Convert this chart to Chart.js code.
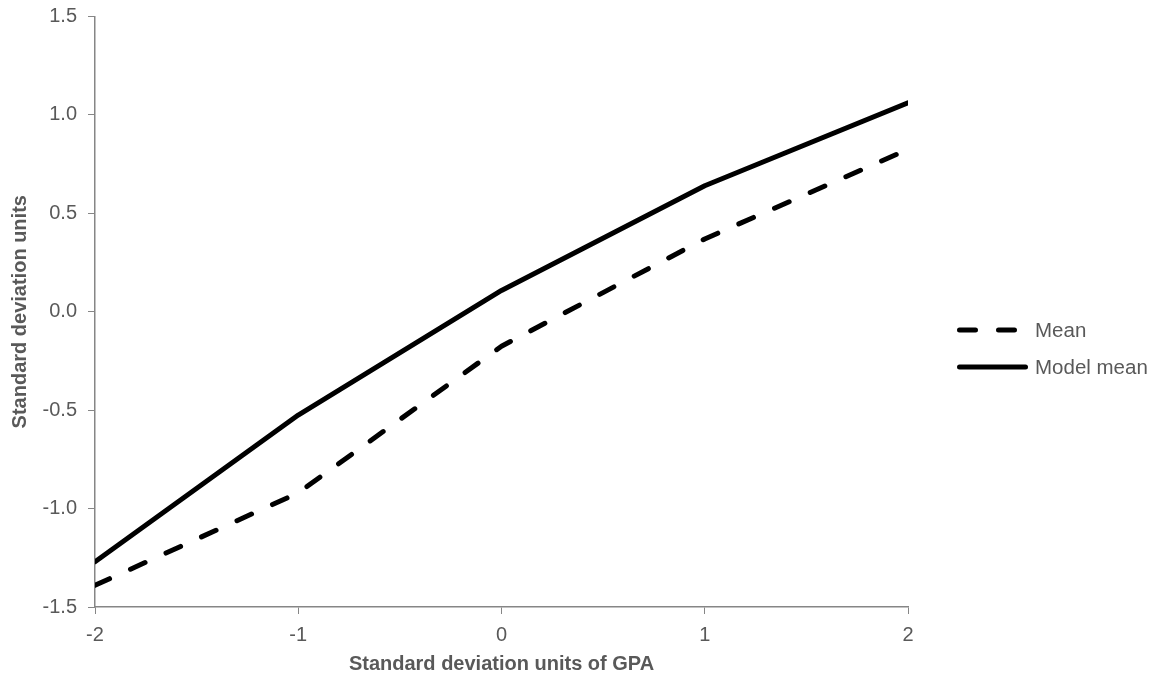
<!DOCTYPE html>
<html>
<head>
<meta charset="utf-8">
<script src="https://cdn.jsdelivr.net/npm/chart.js@4"></script>
<style>
  html, body { margin: 0; padding: 0; background: #fff; }
  #wrap { width: 1161px; height: 681px; position: relative; }
</style>
</head>
<body>
<div id="wrap"><canvas id="gpa-chart" width="1161" height="681"></canvas></div>
<script>
// values
const xValues = [-2, -1, 0, 1, 2];
const meanValues = [-1.39, -0.92, -0.175, 0.37, 0.825];
const modelMeanValues = [-1.27, -0.525, 0.108, 0.64, 1.062];
const xTickLabels = ['-2', '-1', '0', '1', '2'];
const yTickValues = [-1.5, -1.0, -0.5, 0.0, 0.5, 1.0, 1.5];
const yTickLabels = ['-1.5', '-1.0', '-0.5', '0.0', '0.5', '1.0', '1.5'];
const seriesNames = ['Mean', 'Model mean'];

const fontFamily = '"Liberation Sans", Arial, sans-serif';
const textGrey = '#595959';
const axisGrey = '#868686';
const dash = [16, 23];

// legend drawn in the right margin, next to the plot
const sideLegend = {
  id: 'sideLegend',
  afterDraw(chart) {
    const ctx = chart.ctx;
    const x0 = 957, lineLen = 71, rowY = [330, 367];
    chart.data.datasets.forEach((ds, i) => {
      const y = rowY[i];
      ctx.save();
      ctx.beginPath();
      ctx.setLineDash(ds.borderDash || []);
      ctx.lineCap = 'round';
      ctx.lineWidth = ds.borderWidth;
      ctx.strokeStyle = ds.borderColor;
      ctx.moveTo(x0 + 2.5, y);
      ctx.lineTo(x0 + lineLen - 2.5, y);
      ctx.stroke();
      ctx.setLineDash([]);
      ctx.fillStyle = textGrey;
      ctx.font = '20.5px ' + fontFamily;
      ctx.textBaseline = 'middle';
      ctx.fillText(ds.label, x0 + lineLen + 7, y + 1);
      ctx.restore();
    });
  }
};

const toPoints = (vals) => vals.map((v, i) => ({ x: xValues[i], y: v }));

const config = {
  type: 'line',
  data: {
    datasets: [
      {
        label: seriesNames[0],
        data: toPoints(meanValues),
        borderColor: '#000',
        borderWidth: 5,
        borderDash: dash,
        borderCapStyle: 'round',
        borderJoinStyle: 'round',
        pointRadius: 0,
        tension: 0,
      },
      {
        label: seriesNames[1],
        data: toPoints(modelMeanValues),
        borderColor: '#000',
        borderWidth: 5,
        borderCapStyle: 'round',
        borderJoinStyle: 'round',
        pointRadius: 0,
        tension: 0,
      },
    ]
  },
  options: {
    responsive: false,
    animation: false,
    layout: { padding: { left: 0, top: 16.5, right: 253, bottom: 0 } },
    plugins: {
      legend: { display: false },
      tooltip: { enabled: false },
    },
    scales: {
      x: {
        type: 'linear',
        min: -2,
        max: 2,
        afterBuildTicks: (scale) => { scale.ticks = xValues.map(v => ({ value: v })); },
        afterFit: (scale) => { scale.height = 74; },
        grid: { drawOnChartArea: false, drawTicks: true, tickLength: 7, color: axisGrey },
        border: { color: axisGrey, width: 1.5 },
        ticks: {
          padding: 9,
          color: textGrey,
          font: { family: fontFamily, size: 20 },
          callback: (v) => xTickLabels[xValues.indexOf(v)],
        },
        title: {
          display: true,
          text: 'Standard deviation units of GPA',
          color: textGrey,
          font: { family: fontFamily, size: 20, weight: 'bold' },
          padding: { top: 0, bottom: 5 },
        },
      },
      y: {
        type: 'linear',
        min: -1.5,
        max: 1.5,
        afterBuildTicks: (scale) => { scale.ticks = yTickValues.map(v => ({ value: v })); },
        afterFit: (scale) => {
          scale.width = 95;
          scale.paddingTop = 0;
          scale.paddingBottom = 0;
        },
        grid: { drawOnChartArea: false, drawTicks: true, tickLength: 7, color: axisGrey },
        border: { color: axisGrey, width: 1.5 },
        ticks: {
          padding: 11,
          color: textGrey,
          font: { family: fontFamily, size: 20 },
          callback: (v) => yTickLabels[yTickValues.indexOf(v)],
        },
        title: {
          display: true,
          text: 'Standard deviation units',
          color: textGrey,
          font: { family: fontFamily, size: 20, weight: 'bold' },
          padding: { top: 8, bottom: 0 },
        },
      },
    },
  },
  plugins: [sideLegend],
};

const gpaChart = new Chart(document.getElementById('gpa-chart'), config);
</script>
</body>
</html>
